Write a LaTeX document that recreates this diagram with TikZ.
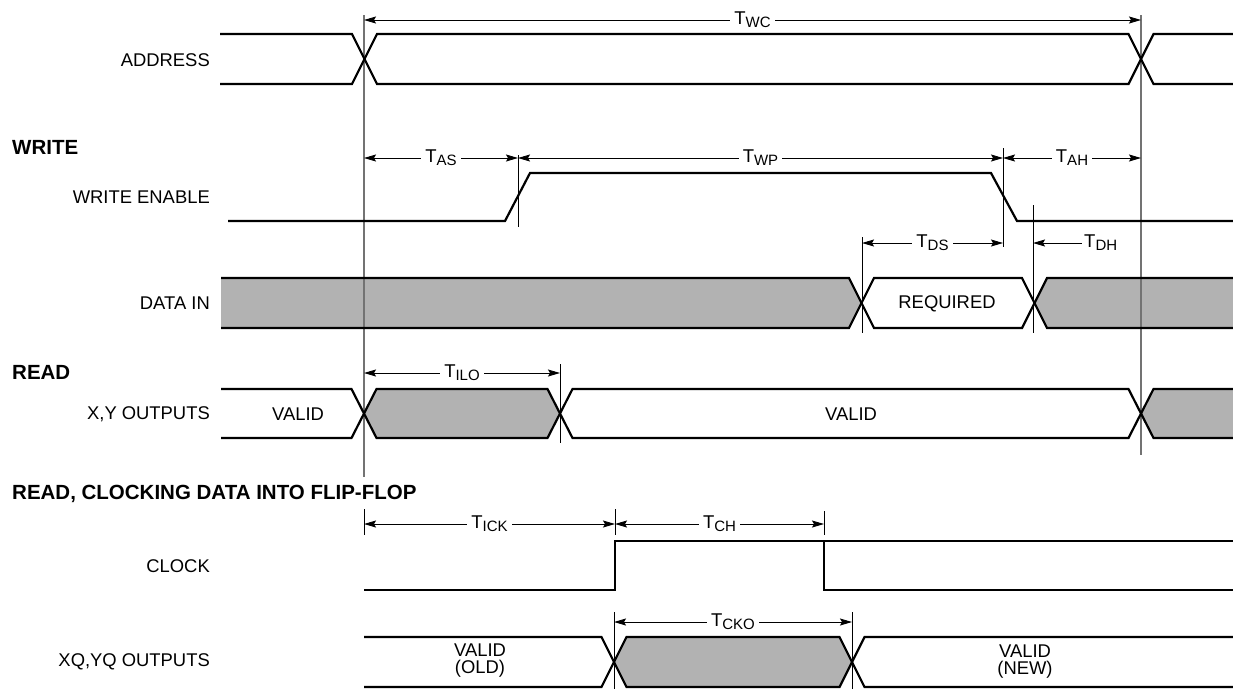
\documentclass[tikz,border=0pt]{standalone}
\usepackage{fontspec}
\setmainfont{Liberation Sans}
\usetikzlibrary{arrows.meta}
\usetikzlibrary{positioning}
\newcommand{\tsub}[1]{{\fontsize{18.5}{18.5}\selectfont T}\raisebox{-3pt}{\fontsize{15}{15}\selectfont #1}}
\tikzset{
    sigline/.style = {line width=2.2pt, black, line join=miter},
    sigfill/.style = {fill=black!30, draw=none},
    guide/.style = {line width=1.2pt, black!55},
    tickline/.style = {line width=0.9pt, black},
    dimarrow/.style = {{Stealth[length=12pt,width=7pt,inset=2pt]}-{Stealth[length=12pt,width=7pt,inset=2pt]}, line width=0.9pt, black},
    dimarrowl/.style = {{Stealth[length=12pt,width=7pt,inset=2pt]}-, line width=0.9pt, black},
    dimlabel/.style = {fill=white, inner xsep=4pt, inner ysep=1pt},
    siglabel/.style = {anchor=east, font=\fontsize{18.4}{18.4}\selectfont, inner sep=0pt},
    headlabel/.style = {anchor=west, font=\fontsize{20.5}{20.5}\selectfont\bfseries, inner sep=0pt},
    buslabel/.style = {align=center, font=\fontsize{18.4}{17}\selectfont, inner sep=0pt}
}
\begin{document}
\begin{tikzpicture}[x=1pt,y=-1pt]
\useasboundingbox (0,0) rectangle (1233,689);

% signal names
\node[siglabel] at ( 210,  60) (addr) {ADDRESS};
\node[headlabel] at (  12, 147) (write) {WRITE};
\node[siglabel] at ( 210, 197) (we) {WRITE ENABLE};
\node[siglabel] at ( 210, 303) (din) {DATA IN};
\node[headlabel] at (  12, 372) (read) {READ};
\node[siglabel] at ( 210, 414) (xy) {X,Y OUTPUTS};
\node[headlabel] at (  12, 494) (readff) {READ, CLOCKING DATA INTO FLIP-FLOP};
\node[siglabel] at ( 210, 566) (clk) {CLOCK};
\node[siglabel] at ( 210, 662) (xq) {XQ,YQ OUTPUTS};

% gray (undefined) regions
\fill[sigfill] (221,278) -- (849,278) -- (861.5,303) -- (849,328) -- (221,328) -- cycle;
\fill[sigfill] (1233,278) -- (1047,278) -- (1034.5,303) -- (1047,328) -- (1233,328) -- cycle;
\fill[sigfill] (364,413.5) -- (376.5,389) -- (547.5,389) -- (560,413.5) -- (547.5,438) -- (376.5,438) -- cycle;
\fill[sigfill] (1141,413.5) -- (1153.5,389) -- (1233,389) -- (1233,438) -- (1153.5,438) -- cycle;
\fill[sigfill] (614,662) -- (626.5,637) -- (839.5,637) -- (852,662) -- (839.5,687) -- (626.5,687) -- cycle;

% guide lines
\draw[guide] (364,15) -- (364,477);
\draw[guide] (1141,15) -- (1141,455);
\draw[tickline] (518,155) -- (518,227);
\draw[tickline] (1003,148) -- (1003,247);
\draw[tickline] (862,237) -- (862,333);
\draw[tickline] (1033,205) -- (1033,333);
\draw[tickline] (560,364) -- (560,443);
\draw[tickline] (364,509) -- (364,535);
\draw[tickline] (615,509) -- (615,535);
\draw[tickline] (824,511) -- (824,535);
\draw[tickline] (614,612) -- (614,689);
\draw[tickline] (852,612) -- (852,689);

% signals
\draw[sigline] (220,34) -- (352,34) -- (377,84) -- (1128.5,84) -- (1153.5,34) -- (1233,34);
\draw[sigline] (220,84) -- (352,84) -- (377,34) -- (1128.5,34) -- (1153.5,84) -- (1233,84);
\draw[sigline] (228,221) -- (505,221) -- (530,173) -- (991,173) -- (1017,221) -- (1233,221);
\draw[sigline] (221,278) -- (849,278) -- (874,328) -- (1022,328) -- (1047,278) -- (1233,278);
\draw[sigline] (221,328) -- (849,328) -- (874,278) -- (1022,278) -- (1047,328) -- (1233,328);
\draw[sigline] (221,389) -- (351.5,389) -- (376.5,438) -- (547.5,438) -- (572.5,389) -- (1128.5,389) -- (1153.5,438) -- (1233,438);
\draw[sigline] (221,438) -- (351.5,438) -- (376.5,389) -- (547.5,389) -- (572.5,438) -- (1128.5,438) -- (1153.5,389) -- (1233,389);
\draw[sigline] (364,590) -- (615,590) -- (615,541) -- (1233,541);
\draw[sigline] (824,541) -- (824,590) -- (1233,590);
\draw[sigline] (364,637) -- (601.5,637) -- (626.5,687) -- (839.5,687) -- (864.5,637) -- (1233,637);
\draw[sigline] (364,687) -- (601.5,687) -- (626.5,637) -- (839.5,637) -- (864.5,687) -- (1233,687);

% texts on the buses
\node[buslabel] at ( 947, 304) (req) {REQUIRED};
\node[buslabel] at ( 298, 414) (xyold) {VALID};
\node[buslabel] at ( 851, 414) (xynew) {VALID};
\node[buslabel] at ( 480, 661) (xqold) {VALID\\(OLD)};
\node[buslabel] at (1025, 662) (xqnew) {VALID\\(NEW)};

% timing arrows
\coordinate (twcL) at ( 364,  20);
\coordinate (twcR) at (1141,  20);
\coordinate (tasL) at ( 364, 158);
\coordinate (tasR) at ( 518, 158);
\coordinate (twpL) at ( 518, 158);
\coordinate (twpR) at (1003, 158);
\coordinate (tahL) at (1003, 158);
\coordinate (tahR) at (1141, 158);
\coordinate (tdsL) at ( 862, 243);
\coordinate (tdsR) at (1003, 243);
\coordinate (tdhL) at (1033, 243);
\coordinate (tdhR) at (1082, 243);
\coordinate (tiloL) at ( 364, 373);
\coordinate (tiloR) at ( 560, 373);
\coordinate (tickL) at ( 364, 524);
\coordinate (tickR) at ( 615, 524);
\coordinate (tchL) at ( 615, 524);
\coordinate (tchR) at ( 824, 524);
\coordinate (tckoL) at ( 614, 622);
\coordinate (tckoR) at ( 852, 622);

\draw[dimarrow] (twcL) -- node[dimlabel] (twc) {\tsub{WC}} (twcR);
\draw[dimarrow] (tasL) -- node[dimlabel] (tas) {\tsub{AS}} (tasR);
\draw[dimarrow] (twpL) -- node[dimlabel] (twp) {\tsub{WP}} (twpR);
\draw[dimarrow] (tahL) -- node[dimlabel] (tah) {\tsub{AH}} (tahR);
\draw[dimarrow] (tdsL) -- node[dimlabel] (tds) {\tsub{DS}} (tdsR);
\draw[dimarrowl] (tdhL) -- (tdhR);
\node[right=0pt of tdhR, inner sep=2pt] (tdh) {\tsub{DH}};
\draw[dimarrow] (tiloL) -- node[dimlabel] (tilo) {\tsub{ILO}} (tiloR);
\draw[dimarrow] (tickL) -- node[dimlabel] (tick) {\tsub{ICK}} (tickR);
\draw[dimarrow] (tchL) -- node[dimlabel] (tch) {\tsub{CH}} (tchR);
\draw[dimarrow] (tckoL) -- node[dimlabel] (tcko) {\tsub{CKO}} (tckoR);
\end{tikzpicture}
\end{document}
